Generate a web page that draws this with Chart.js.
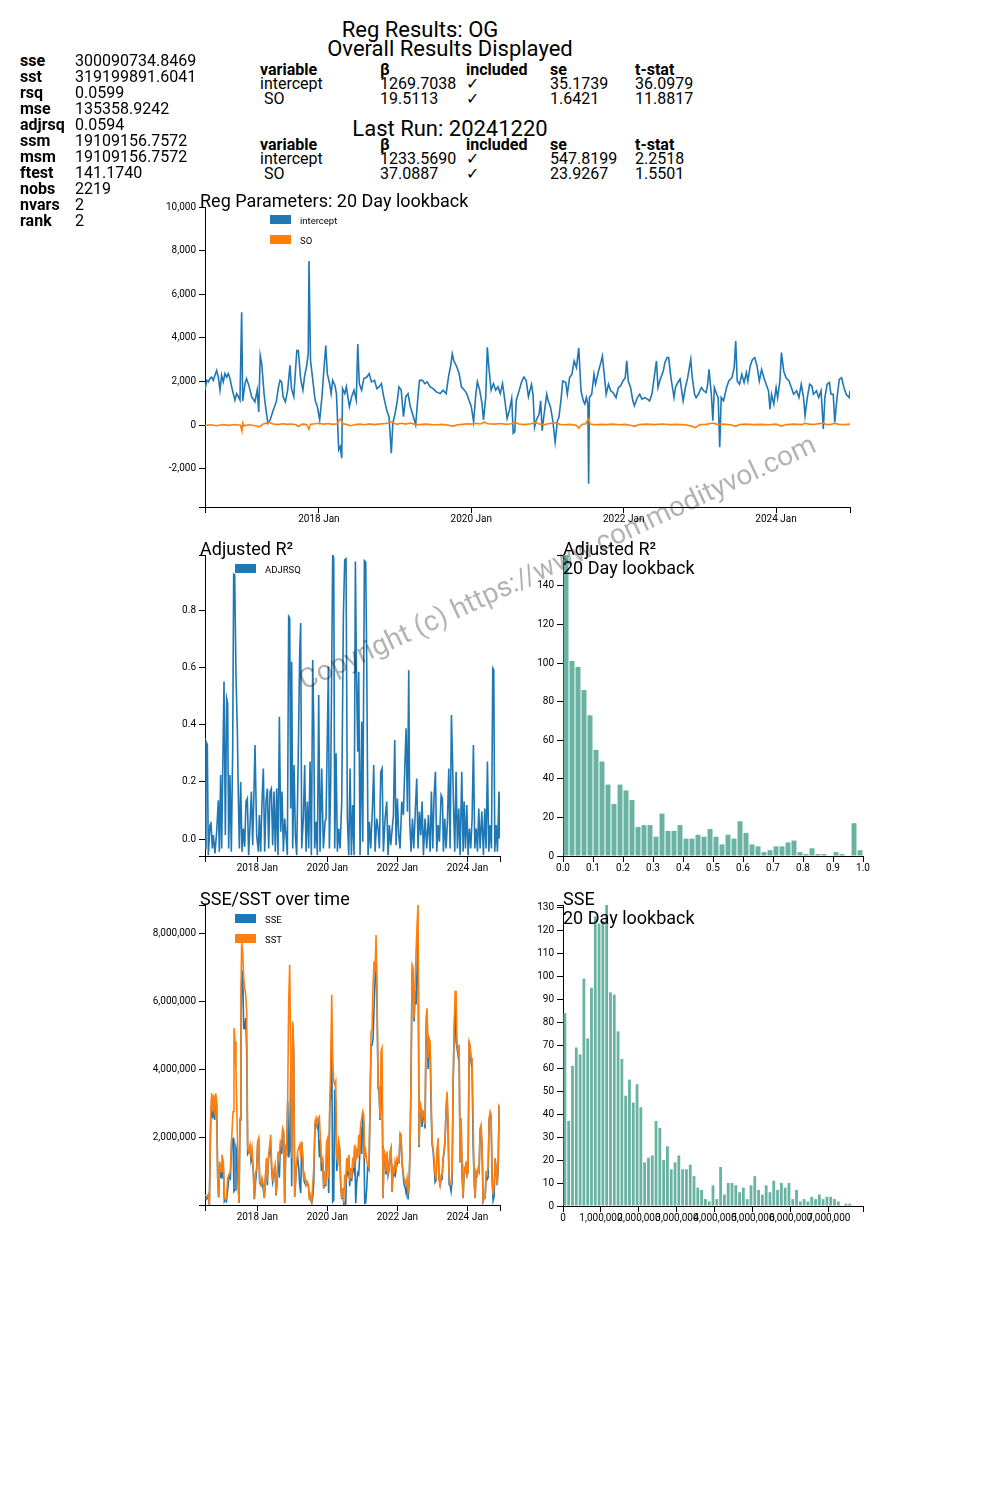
<!DOCTYPE html>
<html><head><meta charset="utf-8">
<script src="https://cdn.jsdelivr.net/npm/chart.js@4.4.1/dist/chart.umd.min.js"></script>
<style>
body{margin:0;background:#fff;font-family:Roboto,sans-serif;}
#wrap{position:relative;width:1000px;height:1500px;overflow:hidden;background:#fff;}
.t{position:absolute;white-space:pre;color:#000;line-height:1;font-family:Roboto,sans-serif;}
canvas{position:absolute;}
#wm{position:absolute;white-space:nowrap;font-family:Roboto,sans-serif;color:rgba(0,0,0,0.3);z-index:10;pointer-events:none;}
</style></head><body><div id="wrap"></div>
<script>
// ---------------- DATA ----------------
const statNames = ['sse','sst','rsq','mse','adjrsq','ssm','msm','ftest','nobs','nvars','rank'];
const statValues = ['300090734.8469','319199891.6041','0.0599','135358.9242','0.0594','19109156.7572','19109156.7572','141.1740','2219','2','2'];
const tableHeaders = ['variable','β','included','se','t-stat'];
const overallRows = [['intercept','1269.7038','✓','35.1739','36.0979'],[' SO','19.5113','✓','1.6421','11.8817']];
const lastRunRows = [['intercept','1233.5690','✓','547.8199','2.2518'],[' SO','37.0887','✓','23.9267','1.5501']];

const yearTicks = [2018, 2020, 2022, 2024];

// Reg parameters (decimal years)
const paramDates = [
2016.505,2016.527,2016.549,2016.570,2016.592,2016.614,2016.636,2016.658,2016.680,2016.702,
2016.723,2016.745,2016.767,2016.789,2016.811,2016.833,2016.855,2016.876,2016.898,2016.920,
2016.942,2016.964,2016.986,2017.000,2017.030,2017.050,2017.086,2017.117,2017.160,2017.190,
2017.210,2017.230,2017.250,2017.280,2017.300,2017.330,2017.360,2017.400,2017.440,2017.470,
2017.490,2017.510,2017.530,2017.560,2017.590,2017.620,2017.640,2017.670,2017.710,2017.730,
2017.760,2017.790,2017.810,2017.840,2017.860,2017.870,2017.890,2017.920,2017.950,2017.980,
2018.010,2018.040,2018.060,2018.090,2018.110,2018.140,2018.160,2018.180,2018.210,2018.230,
2018.260,2018.280,2018.300,2018.310,2018.340,2018.360,2018.400,2018.430,2018.460,2018.490,
2018.510,2018.530,2018.560,2018.590,2018.630,2018.660,2018.690,2018.730,2018.760,2018.790,
2018.820,2018.850,2018.890,2018.920,2018.950,2018.970,2019.000,2019.030,2019.050,2019.080,
2019.110,2019.140,2019.170,2019.200,2019.240,2019.270,2019.300,2019.320,2019.360,2019.390,
2019.420,2019.460,2019.500,2019.540,2019.590,2019.630,2019.670,2019.700,2019.730,2019.750,
2019.770,2019.810,2019.840,2019.870,2019.910,2019.940,2019.970,2020.000,2020.030,2020.060,
2020.080,2020.110,2020.140,2020.160,2020.190,2020.210,2020.230,2020.260,2020.290,2020.320,
2020.350,2020.380,2020.410,2020.440,2020.470,2020.500,2020.530,2020.550,2020.570,2020.590,
2020.630,2020.660,2020.690,2020.720,2020.750,2020.790,2020.810,2020.830,2020.850,2020.890,
2020.910,2020.930,2020.950,2020.990,2021.010,2021.040,2021.070,2021.100,2021.130,2021.150,
2021.180,2021.200,2021.240,2021.260,2021.290,2021.320,2021.350,2021.380,2021.410,2021.440,
2021.470,2021.490,2021.510,2021.530,2021.540,2021.550,2021.580,2021.610,2021.630,2021.670,
2021.700,2021.720,2021.740,2021.770,2021.800,2021.830,2021.860,2021.900,2021.930,2021.960,
2021.990,2022.020,2022.040,2022.060,2022.090,2022.120,2022.140,2022.180,2022.210,2022.240,
2022.280,2022.310,2022.340,2022.370,2022.400,2022.430,2022.450,2022.480,2022.520,2022.540,
2022.570,2022.590,2022.620,2022.660,2022.680,2022.710,2022.740,2022.780,2022.810,2022.840,
2022.880,2022.900,2022.930,2022.950,2022.980,2023.020,2023.050,2023.080,2023.100,2023.120,
2023.150,2023.170,2023.190,2023.220,2023.240,2023.260,2023.280,2023.310,2023.350,2023.380,
2023.420,2023.450,2023.470,2023.490,2023.520,2023.550,2023.580,2023.610,2023.630,2023.660,
2023.690,2023.720,2023.750,2023.780,2023.810,2023.840,2023.870,2023.900,2023.920,2023.940,
2023.970,2024.000,2024.020,2024.050,2024.070,2024.100,2024.130,2024.170,2024.200,2024.230,
2024.270,2024.300,2024.330,2024.360,2024.380,2024.410,2024.440,2024.470,2024.490,2024.530,
2024.560,2024.590,2024.620,2024.640,2024.670,2024.700,2024.720,2024.750,2024.770,2024.800,
2024.830,2024.860,2024.890,2024.920,2024.960,2024.970];
const interceptVals = [
1600,2050,1980,2130,2200,2050,2280,2500,2200,1600,
2280,1980,2360,2200,2360,2130,1750,1440,1140,1440,
1300,1140,5170,1100,1900,2130,1750,1300,1060,1600,
600,3190,2800,1440,840,80,230,680,1060,1750,
2050,1980,1300,1060,1600,2740,1670,1300,3420,3420,
2130,1600,2200,2740,3270,7520,2960,2050,1140,840,
230,1300,2280,3650,2360,1900,1440,2050,1820,1440,
-1140,-990,-1520,1670,1440,1750,840,1300,1600,1140,
3720,1900,1600,2130,2200,2360,1980,2050,1670,1750,
1900,1300,680,380,-1290,80,530,1140,1750,1600,
380,1300,1440,840,380,0,1300,2050,2050,1900,
1980,1750,1670,1520,1440,1600,1440,2200,2740,3270,
2960,2660,2360,1750,1600,1440,1140,840,150,1440,
1980,1600,990,230,1300,3570,2660,1600,1900,1600,
1750,1440,1900,1140,300,680,1220,-380,-300,1140,
1600,1980,2200,2050,1300,1870,1410,-100,200,500,
1110,-260,350,1410,1110,810,200,-790,200,350,
1260,2020,1950,1410,2170,2330,2940,2630,3540,1570,
1110,960,1260,960,-2690,1260,1410,2330,1870,2480,
2860,3160,2480,1410,1870,1570,1490,1260,1720,1790,
2020,2170,2940,2020,1720,1110,880,1260,1410,1190,
1260,1190,1110,1410,2170,2940,1720,2100,2480,2860,
3090,3090,2170,1260,1720,1950,2100,1110,1720,2170,
3010,2170,1410,1260,1410,1720,1570,1490,1790,2550,
1410,200,1720,1410,1260,-1020,1260,1110,1720,2020,
2170,2630,3850,2020,1870,2330,1950,2400,2020,2710,
3010,3090,2710,2020,2550,2170,1870,1570,730,1410,
960,1720,1260,2020,3320,2480,2170,2020,1720,1410,
1570,1260,1870,1260,430,1260,1870,1790,1410,1570,
1260,1570,-180,1260,1870,1950,1410,1410,120,1260,
2100,2170,1720,1410,1260,1570];
const soDates = [
2016.505,2016.58,2016.66,2016.74,2016.82,2016.90,2016.97,2016.99,2017.00,2017.02,
2017.08,2017.15,2017.22,2017.26,2017.34,2017.40,2017.46,2017.52,2017.58,2017.64,
2017.70,2017.73,2017.78,2017.84,2017.87,2017.89,2017.95,2018.00,2018.06,2018.12,
2018.18,2018.24,2018.27,2018.29,2018.31,2018.36,2018.42,2018.48,2018.54,2018.60,
2018.66,2018.72,2018.78,2018.84,2018.90,2018.94,2018.97,2019.02,2019.08,2019.14,
2019.20,2019.26,2019.32,2019.40,2019.48,2019.56,2019.62,2019.70,2019.76,2019.82,
2019.88,2019.94,2020.00,2020.06,2020.12,2020.17,2020.22,2020.30,2020.38,2020.46,
2020.52,2020.57,2020.62,2020.70,2020.78,2020.84,2020.90,2020.96,2021.04,2021.10,
2021.16,2021.22,2021.30,2021.38,2021.41,2021.45,2021.50,2021.54,2021.56,2021.62,
2021.70,2021.78,2021.86,2021.94,2022.02,2022.10,2022.14,2022.20,2022.30,2022.40,
2022.50,2022.60,2022.70,2022.80,2022.88,2022.94,2023.00,2023.08,2023.17,2023.24,
2023.30,2023.40,2023.47,2023.52,2023.60,2023.70,2023.80,2023.90,2024.00,2024.07,
2024.14,2024.24,2024.34,2024.38,2024.44,2024.52,2024.62,2024.66,2024.72,2024.77,
2024.82,2024.90,2024.97];
const soVals = [
-20,10,-30,20,-15,25,-10,-280,90,-40,
10,-20,-80,30,130,50,20,60,30,50,
10,-70,40,20,-200,40,60,80,40,70,
30,60,250,280,60,30,-30,20,40,10,
50,20,40,60,80,150,120,30,80,40,
90,30,20,40,20,10,30,-10,-50,10,
30,60,40,80,50,130,60,40,70,30,
60,130,50,20,60,110,40,20,80,100,
30,10,30,-20,-150,20,60,300,40,10,
30,20,40,10,30,-20,-60,20,40,20,
50,20,30,10,-40,-120,20,30,90,20,
40,10,-60,20,40,20,30,10,40,-50,
20,40,20,80,30,40,90,20,30,80,
30,20,40];

// Adjusted R² over time
const adjDates = [
2016.505,2016.533,2016.571,2016.600,2016.648,2016.676,2016.714,2016.743,2016.790,2016.838,
2016.886,2016.914,2016.952,2016.981,2017.010,2017.048,2017.086,2017.124,2017.152,2017.181,
2017.219,2017.257,2017.295,2017.324,2017.352,2017.390,2017.429,2017.457,2017.486,2017.524,
2017.562,2017.600,2017.638,2017.676,2017.714,2017.752,2017.790,2017.829,2017.867,2017.905,
2017.933,2017.981,2018.029,2018.057,2018.095,2018.133,2018.171,2018.210,2018.248,2018.286,
2018.324,2018.362,2018.400,2018.438,2018.476,2018.514,2018.552,2018.590,2018.629,2018.667,
2018.705,2018.743,2018.781,2018.819,2018.857,2018.895,2018.924,2018.952,2018.981,2019.010,
2019.048,2019.086,2019.124,2019.171,2019.210,2019.238,2019.267,2019.314,2019.352,2019.390,
2019.429,2019.467,2019.505,2019.543,2019.581,2019.610,2019.638,2019.676,2019.714,2019.752,
2019.790,2019.838,2019.886,2019.933,2019.962,2020.029,2020.057,2020.095,2020.152,2020.181,
2020.210,2020.248,2020.286,2020.324,2020.362,2020.410,2020.457,2020.495,2020.533,2020.571,
2020.610,2020.648,2020.686,2020.724,2020.762,2020.800,2020.829,2020.867,2020.895,2020.933,
2020.981,2021.010,2021.057,2021.095,2021.124,2021.162,2021.200,2021.238,2021.286,2021.324,
2021.362,2021.410,2021.448,2021.486,2021.524,2021.562,2021.600,2021.648,2021.695,2021.733,
2021.771,2021.810,2021.886,2021.924,2021.962,2022.000,2022.038,2022.076,2022.124,2022.171,
2022.210,2022.248,2022.286,2022.324,2022.352,2022.390,2022.429,2022.467,2022.514,2022.552,
2022.590,2022.629,2022.667,2022.705,2022.743,2022.790,2022.838,2022.886,2022.933,2022.971,
2023.010,2023.048,2023.086,2023.124,2023.162,2023.200,2023.248,2023.286,2023.314,2023.352,
2023.390,2023.429,2023.467,2023.505,2023.543,2023.571,2023.600,2023.638,2023.676,2023.714,
2023.752,2023.790,2023.838,2023.876,2023.905,2023.943,2023.981,2024.019,2024.057,2024.095,
2024.133,2024.171,2024.210,2024.248,2024.286,2024.324,2024.362,2024.410,2024.457,2024.495,
2024.533,2024.571,2024.610,2024.648,2024.686,2024.724,2024.752,2024.781,2024.819,2024.857,
2024.900,2024.915,2024.930];
const adjVals = [
-0.033,0.341,0.329,-0.056,0.049,0.061,-0.033,0.014,-0.050,0.026,
0.136,-0.044,0.224,-0.033,0.224,0.551,0.014,0.492,0.475,-0.033,
0.224,-0.044,0.305,0.926,0.924,0.574,0.375,0.154,-0.033,0.200,
-0.044,0.037,-0.027,0.131,0.142,-0.056,0.049,0.166,-0.021,0.177,
0.329,0.014,-0.044,0.084,-0.044,0.131,0.247,-0.044,0.131,0.177,
-0.033,0.166,0.177,-0.021,0.166,-0.044,0.177,-0.056,0.428,0.026,
0.166,-0.044,0.072,0.014,-0.056,0.778,0.772,0.107,0.620,-0.033,
0.259,0.014,-0.056,0.317,0.656,0.755,-0.033,0.072,0.259,-0.044,
0.131,-0.033,0.271,-0.056,0.626,0.410,-0.033,0.061,-0.056,0.504,
-0.044,0.247,-0.033,0.061,0.072,0.603,-0.033,0.200,0.994,0.982,
-0.033,0.300,-0.044,0.037,-0.033,0.131,0.778,0.976,0.980,0.072,
-0.056,0.247,-0.056,0.119,-0.056,0.970,0.597,0.305,0.585,-0.056,
0.410,-0.009,0.973,0.968,0.615,-0.056,0.061,-0.033,0.107,0.259,
-0.044,0.072,0.037,-0.033,0.235,0.247,-0.044,0.072,0.131,-0.056,
0.049,-0.021,0.084,0.346,-0.021,0.142,0.014,-0.033,0.131,0.084,
0.247,0.387,0.096,0.590,0.061,-0.044,0.072,-0.033,0.107,0.212,
-0.033,0.096,0.014,0.131,-0.056,0.072,-0.033,0.084,-0.044,0.166,
-0.033,0.154,0.235,-0.044,0.049,-0.009,0.154,0.142,-0.044,0.072,
-0.033,0.061,0.247,-0.033,0.434,0.294,0.131,-0.044,0.235,-0.033,
0.107,-0.056,0.235,-0.044,0.131,-0.033,0.119,-0.056,0.037,-0.033,
0.072,0.329,-0.033,0.037,-0.044,0.107,-0.033,0.096,-0.056,0.107,
-0.033,0.271,-0.044,0.049,-0.033,0.597,0.591,-0.044,0.049,-0.044,
0.166,0.002,0.160];

// SSE / SST over time (millions)
const errDates = [
2016.505,2016.552,2016.600,2016.629,2016.667,2016.695,2016.724,2016.752,2016.781,2016.810,
2016.838,2016.867,2016.895,2016.924,2016.962,2016.990,2017.029,2017.057,2017.086,2017.114,
2017.152,2017.190,2017.229,2017.267,2017.305,2017.333,2017.362,2017.390,2017.419,2017.448,
2017.476,2017.505,2017.533,2017.552,2017.581,2017.610,2017.638,2017.667,2017.695,2017.724,
2017.752,2017.790,2017.819,2017.848,2017.886,2017.914,2017.943,2017.981,2018.010,2018.038,
2018.067,2018.105,2018.133,2018.171,2018.200,2018.229,2018.257,2018.286,2018.314,2018.343,
2018.381,2018.410,2018.438,2018.467,2018.505,2018.533,2018.562,2018.600,2018.629,2018.657,
2018.695,2018.724,2018.752,2018.781,2018.810,2018.838,2018.867,2018.895,2018.924,2018.952,
2018.981,2019.010,2019.038,2019.067,2019.095,2019.124,2019.152,2019.181,2019.210,2019.238,
2019.267,2019.295,2019.324,2019.352,2019.390,2019.419,2019.457,2019.486,2019.514,2019.552,
2019.581,2019.610,2019.648,2019.676,2019.705,2019.733,2019.771,2019.800,2019.829,2019.867,
2019.895,2019.924,2019.952,2019.981,2020.010,2020.038,2020.067,2020.095,2020.124,2020.152,
2020.181,2020.210,2020.238,2020.267,2020.295,2020.324,2020.352,2020.381,2020.410,2020.438,
2020.467,2020.495,2020.524,2020.552,2020.581,2020.610,2020.638,2020.667,2020.695,2020.724,
2020.752,2020.781,2020.810,2020.838,2020.867,2020.895,2020.924,2020.952,2020.981,2021.010,
2021.038,2021.067,2021.095,2021.124,2021.152,2021.190,2021.219,2021.248,2021.276,2021.305,
2021.333,2021.362,2021.390,2021.419,2021.448,2021.476,2021.505,2021.533,2021.562,2021.590,
2021.619,2021.648,2021.676,2021.705,2021.733,2021.762,2021.790,2021.819,2021.848,2021.876,
2021.905,2021.933,2021.962,2021.990,2022.019,2022.048,2022.076,2022.105,2022.133,2022.162,
2022.190,2022.219,2022.248,2022.276,2022.305,2022.333,2022.362,2022.390,2022.419,2022.448,
2022.476,2022.505,2022.533,2022.562,2022.590,2022.619,2022.648,2022.676,2022.705,2022.733,
2022.762,2022.790,2022.819,2022.848,2022.876,2022.905,2022.933,2022.962,2022.990,2023.019,
2023.048,2023.076,2023.105,2023.133,2023.162,2023.190,2023.219,2023.248,2023.276,2023.305,
2023.333,2023.362,2023.390,2023.419,2023.448,2023.476,2023.505,2023.533,2023.562,2023.590,
2023.619,2023.648,2023.676,2023.705,2023.733,2023.762,2023.790,2023.819,2023.848,2023.876,
2023.905,2023.933,2023.962,2023.990,2024.019,2024.048,2024.076,2024.105,2024.133,2024.162,
2024.190,2024.219,2024.248,2024.276,2024.305,2024.333,2024.362,2024.390,2024.419,2024.448,
2024.476,2024.505,2024.533,2024.562,2024.590,2024.619,2024.648,2024.676,2024.705,2024.733,
2024.762,2024.790,2024.819,2024.848,2024.876,2024.905,2024.924];
const sstMillions = [
0.30,0.25,0.30,0.01,2.56,3.29,2.75,3.24,2.66,3.29,
3.05,0.89,0.25,1.28,0.99,1.48,1.28,0.21,0.16,0.21,
0.79,0.89,0.99,1.97,2.75,5.21,4.81,3.93,2.56,1.09,
0.06,2.56,6.38,7.71,7.46,6.68,6.38,6.19,5.70,1.68,
1.58,1.77,1.48,1.68,0.99,0.21,0.89,1.09,1.87,1.97,
0.70,0.60,0.79,0.60,0.21,0.79,1.38,0.70,1.38,1.68,
2.07,1.19,0.70,0.99,1.19,0.30,0.79,1.58,1.38,1.87,
1.77,2.26,2.17,0.06,1.68,1.58,3.15,5.99,7.07,4.32,
1.38,5.40,4.62,0.25,0.79,1.28,1.58,1.68,1.77,1.38,
1.87,1.48,0.79,0.89,0.60,0.70,0.60,0.21,0.30,0.06,
0.60,1.09,2.46,2.56,2.36,2.56,2.61,1.97,1.28,1.38,
0.50,0.99,0.60,1.87,1.97,0.79,2.95,4.13,6.19,4.32,
3.64,3.54,3.64,1.38,1.28,1.87,1.68,0.60,0.21,0.50,
0.06,0.89,0.60,1.38,0.99,1.48,0.70,1.09,0.79,1.38,
1.09,1.77,1.28,1.58,1.38,2.07,1.48,2.36,2.56,2.75,
2.66,1.38,1.58,1.28,1.19,1.09,3.05,5.11,5.16,6.48,
7.17,6.87,7.95,6.09,3.54,3.44,2.56,4.52,4.62,0.21,
1.58,1.48,0.99,1.58,0.89,1.09,1.58,1.68,0.40,1.09,
0.99,1.28,1.09,1.38,1.28,1.28,2.12,2.07,1.28,0.99,
0.79,0.70,0.60,0.79,0.40,0.60,1.77,3.83,7.07,6.97,
5.50,6.48,7.46,8.25,8.83,1.77,3.05,2.85,2.56,2.75,
2.66,2.36,5.50,5.79,4.32,4.91,4.81,3.34,1.87,1.68,
1.38,0.89,0.79,1.58,1.97,0.79,0.60,0.89,0.89,1.38,
1.58,1.97,2.85,3.34,2.36,0.79,0.60,0.60,0.99,3.54,
5.21,6.28,6.28,4.72,4.52,4.72,1.28,2.56,1.09,0.21,
1.09,0.99,1.28,0.89,0.99,4.81,4.72,4.32,4.32,2.56,
0.79,0.21,0.99,0.89,1.09,0.99,2.26,2.36,1.68,0.11,
0.21,0.21,0.89,0.99,1.09,2.56,2.75,2.66,0.79,0.30,
0.60,1.38,1.09,0.60,1.19,2.90,2.85];
const sseMillions = [
0.20,0.17,0.29,0.01,2.45,3.10,2.55,3.15,2.50,3.20,
2.95,0.80,0.22,1.20,0.80,1.20,1.10,0.10,0.15,0.11,
0.42,0.85,0.78,1.90,1.95,0.40,0.45,1.70,1.60,0.70,
0.06,2.50,5.30,6.60,6.90,5.20,5.20,5.50,4.60,1.50,
1.55,1.70,1.30,1.45,0.95,0.17,0.60,1.05,1.85,1.90,
0.65,0.58,0.70,0.45,0.20,0.75,1.20,0.58,1.35,1.55,
1.72,1.00,0.68,0.85,1.15,0.28,0.66,1.55,0.80,1.80,
1.50,2.20,2.10,0.05,1.65,1.55,3.05,1.40,1.60,3.90,
0.55,5.30,4.50,0.24,0.75,1.25,1.40,1.10,0.60,0.35,
1.85,1.40,0.75,0.65,0.58,0.62,0.58,0.20,0.22,0.06,
0.22,0.64,2.40,2.40,2.30,2.50,1.40,1.92,1.00,1.30,
0.48,0.92,0.55,1.80,1.60,0.35,2.80,3.30,5.00,0.10,
0.15,3.40,3.00,1.00,1.25,1.80,1.65,0.58,0.18,0.48,
0.03,0.05,0.03,1.10,0.95,1.45,0.55,1.05,0.70,1.22,
1.05,1.70,0.05,0.65,0.95,0.90,1.45,2.30,1.50,2.70,
2.40,0.05,0.06,0.50,1.15,1.05,2.95,4.70,4.70,4.90,
5.80,6.60,7.50,5.90,3.45,3.30,2.50,3.50,3.50,0.20,
1.55,1.40,0.90,1.40,0.88,1.05,1.50,1.65,0.38,1.00,
0.90,0.85,1.07,1.20,1.25,1.25,2.10,1.90,1.20,0.90,
0.60,0.52,0.35,0.72,0.16,0.55,1.70,3.75,6.90,6.60,
5.40,6.30,5.90,7.00,7.90,1.70,2.95,2.75,2.30,2.70,
2.60,2.25,5.20,5.60,4.00,4.80,4.70,2.90,1.80,1.60,
1.15,0.68,0.75,1.55,1.88,0.77,0.59,0.75,0.76,1.35,
1.55,1.90,2.80,3.25,2.20,0.60,0.58,0.40,0.70,3.40,
5.00,5.90,4.80,4.60,4.40,4.60,1.25,2.40,0.85,0.20,
0.95,0.97,1.15,0.87,0.97,4.70,4.60,4.20,4.00,1.75,
0.77,0.20,0.95,0.87,1.00,0.97,2.20,2.20,1.65,0.11,
0.20,0.20,0.87,0.75,0.80,2.50,2.65,2.60,0.75,0.13,
0.25,1.35,1.05,0.58,1.00,2.85,2.80];

// Histogram: adjusted R² (bin starts, width 0.02)
const r2BinStart = [0.00,0.02,0.04,0.06,0.08,0.10,0.12,0.14,0.16,0.18,0.20,0.22,0.24,0.26,0.28,0.30,0.32,0.34,0.36,0.38,0.40,0.42,0.44,0.46,0.48,0.50,0.52,0.54,0.56,0.58,0.60,0.62,0.64,0.66,0.68,0.70,0.72,0.74,0.76,0.78,0.80,0.82,0.84,0.86,0.88,0.90,0.92,0.94,0.96,0.98];
const r2Counts = [156,101,98,86,73,55,49,37,27,37,34,29,15,16,16,10,22,13,13,16,9,9,11,10,14,10,6,11,9,18,12,6,5,2,3,5,5,7,8,2,1,4,1,1,0,2,1,0,17,3];
const r2BinWidth = 0.02;

// Histogram: SSE (bin starts in millions, width 0.1M)
const sseBinStartM = [0.0,0.1,0.2,0.3,0.4,0.5,0.6,0.7,0.8,0.9,1.0,1.1,1.2,1.3,1.4,1.5,1.6,1.7,1.8,1.9,2.0,2.1,2.2,2.3,2.4,2.5,2.6,2.7,2.8,2.9,3.0,3.1,3.2,3.3,3.4,3.5,3.6,3.7,3.8,3.9,4.0,4.1,4.2,4.3,4.4,4.5,4.6,4.7,4.8,4.9,5.0,5.1,5.2,5.3,5.4,5.5,5.6,5.7,5.8,5.9,6.0,6.1,6.2,6.3,6.4,6.5,6.6,6.7,6.8,6.9,7.0,7.1,7.2,7.3,7.4,7.5,7.6,7.7,7.8];
const sseCounts = [84,37,61,69,66,99,73,95,126,123,124,131,93,92,76,64,48,55,45,53,43,19,21,22,37,34,20,26,16,19,22,16,16,18,13,8,7,3,2,9,3,17,5,10,10,9,6,8,3,9,13,7,5,9,6,11,7,10,8,10,3,7,2,3,2,4,3,5,3,4,4,3,2,0,1,1,0,0,0];
const sseBinWidthM = 0.1;

// ---------------- RENDER ----------------
const wrap = document.getElementById('wrap');
const BLUE = '#1f77b4', ORANGE = '#ff7f0e', GREEN = '#69b3a2';
Chart.defaults.font.family = 'Roboto, sans-serif';
Chart.defaults.color = '#000';

function addText(str, x, baseline, size, opt) {
  opt = opt || {};
  const d = document.createElement('div');
  d.className = 't';
  d.textContent = str;
  d.style.fontSize = size + 'px';
  d.style.left = x + 'px';
  d.style.top = (baseline - 0.84 * size) + 'px';
  if (opt.bold) d.style.fontWeight = 'bold';
  if (opt.center) d.style.transform = 'translateX(-50%)';
  wrap.appendChild(d);
}

const PADL = 25, T = 15, R = 15, B = 35;
function makeCanvas(x0, y0, x1, y1, yw) {
  const L = PADL + yw;
  const c = document.createElement('canvas');
  c.width = Math.round(x1 - x0 + L + R);
  c.height = Math.round(y1 - y0 + T + B);
  c.style.left = (x0 - L) + 'px';
  c.style.top = (y0 - T) + 'px';
  wrap.appendChild(c);
  return c;
}

function axis(min, max, labelVals, fmt, isX, yw) {
  const all = labelVals.slice();
  if (!all.includes(min)) all.unshift(min);
  if (!all.includes(max)) all.push(max);
  const lab = new Set(labelVals);
  return {
    type: 'linear', min: min, max: max, offset: false,
    grid: { display: true, drawOnChartArea: false, drawTicks: true, tickLength: 6, color: '#000', lineWidth: 1, offset: false },
    border: { display: true, color: '#000', width: 1 },
    ticks: { color: '#000', font: { size: 10 }, padding: isX ? 0 : 3, autoSkip: false, maxRotation: 0, minRotation: 0,
      callback: function (v) { return lab.has(v) ? fmt(v) : ''; } },
    afterBuildTicks: function (s) { s.ticks = all.map(function (v) { return { value: v }; }); },
    afterFit: function (s) { if (isX) s.height = B; else s.width = yw; }
  };
}

const boxLegend = {
  id: 'boxLegend',
  afterDraw(chart, args, o) {
    if (!o || !o.show) return;
    const ctx = chart.ctx, a = chart.chartArea;
    ctx.save();
    chart.data.datasets.forEach(function (ds, i) {
      const y = a.top + o.dy + i * 20;
      ctx.fillStyle = ds.borderColor;
      ctx.fillRect(a.left + o.dx, y, 21, 9);
      ctx.fillStyle = '#000';
      ctx.font = '9.5px Roboto, sans-serif';
      ctx.textBaseline = 'middle';
      ctx.fillText(ds.label, a.left + o.dx + 30, y + 7);
    });
    ctx.restore();
  }
};

function baseOptions(xs, ys, legend) {
  return {
    responsive: false, animation: false, devicePixelRatio: 1, events: [],
    layout: { padding: { left: PADL, top: T, right: R, bottom: 0 } },
    scales: { x: xs, y: ys },
    plugins: { legend: { display: false }, tooltip: { enabled: false }, boxLegend: legend },
    elements: { point: { radius: 0 }, line: { tension: 0, borderWidth: 1.5 } }
  };
}
function pts(xs, ys) { return xs.map(function (x, i) { return { x: x, y: ys[i] }; }); }

const yearFmt = function (v) { return v + ' Jan'; };
const commaFmt = function (v) { return v.toLocaleString('en-US'); };
const millionFmt = function (v) { return Math.round(v * 1e6).toLocaleString('en-US'); };

// Chart 1: Reg parameters
new Chart(makeCanvas(205, 207, 850, 507, 45), {
  type: 'line',
  data: { datasets: [
    { label: 'intercept', data: pts(paramDates, interceptVals), borderColor: BLUE, borderWidth: 1.6, order: 1 },
    { label: 'SO', data: pts(soDates, soVals), borderColor: ORANGE, borderWidth: 1.6, order: 0 }
  ] },
  options: baseOptions(
    axis(2016.505, 2024.97, yearTicks, yearFmt, true),
    axis(-3760, 10000, [-2000, 0, 2000, 4000, 6000, 8000, 10000], commaFmt, false, 45),
    { show: true, dx: 65, dy: 8 }),
  plugins: [boxLegend]
});

// Chart 2: Adjusted R² over time
new Chart(makeCanvas(205, 555, 500, 856, 45), {
  type: 'line',
  data: { datasets: [
    { label: 'ADJRSQ', data: pts(adjDates, adjVals), borderColor: BLUE, borderWidth: 1.6 }
  ] },
  options: baseOptions(
    axis(2016.505, 2024.93, yearTicks, yearFmt, true),
    axis(-0.059, 0.993, [0, 0.2, 0.4, 0.6, 0.8], function (v) { return v.toFixed(1); }, false, 45),
    { show: true, dx: 30, dy: 9 }),
  plugins: [boxLegend]
});

// Chart 3: Adjusted R² histogram
new Chart(makeCanvas(563, 555, 863, 856, 45), {
  type: 'bar',
  data: { datasets: [
    { label: 'count', data: pts(r2BinStart.map(function (s) { return s + r2BinWidth / 2; }), r2Counts),
      backgroundColor: GREEN, borderWidth: 0, barPercentage: 0.83, categoryPercentage: 1 }
  ] },
  options: baseOptions(
    axis(0, 1, [0, 0.1, 0.2, 0.3, 0.4, 0.5, 0.6, 0.7, 0.8, 0.9, 1], function (v) { return v.toFixed(1); }, true),
    axis(0, 156, [0, 20, 40, 60, 80, 100, 120, 140], function (v) { return String(v); }, false, 45),
    { show: false }),
  plugins: [boxLegend]
});

// Chart 4: SSE/SST over time
new Chart(makeCanvas(205, 905, 500, 1205, 65), {
  type: 'line',
  data: { datasets: [
    { label: 'SSE', data: pts(errDates, sseMillions), borderColor: BLUE, borderWidth: 1.6, order: 1 },
    { label: 'SST', data: pts(errDates, sstMillions), borderColor: ORANGE, borderWidth: 1.6, order: 0 }
  ] },
  options: baseOptions(
    axis(2016.505, 2024.93, yearTicks, yearFmt, true),
    axis(0, 8.83, [2, 4, 6, 8], millionFmt, false, 65),
    { show: true, dx: 30, dy: 9 }),
  plugins: [boxLegend]
});

// Chart 5: SSE histogram
new Chart(makeCanvas(563, 905, 863, 1205.5, 45), {
  type: 'bar',
  data: { datasets: [
    { label: 'count', data: pts(sseBinStartM.map(function (s) { return s + sseBinWidthM / 2; }), sseCounts),
      backgroundColor: GREEN, borderWidth: 0, barPercentage: 0.74, categoryPercentage: 1 }
  ] },
  options: baseOptions(
    axis(0, 7.9, [0, 1, 2, 3, 4, 5, 6, 7], millionFmt, true),
    axis(0, 131, [0, 10, 20, 30, 40, 50, 60, 70, 80, 90, 100, 110, 120, 130], function (v) { return String(v); }, false, 45),
    { show: false }),
  plugins: [boxLegend]
});

// ---------------- TEXT ----------------
statNames.forEach(function (n, i) {
  addText(n, 20, 66 + 16 * i, 16, { bold: true });
  addText(statValues[i], 75, 66 + 16 * i, 16);
});
addText('Reg Results: OG', 420, 37, 22, { center: true });
addText('Overall Results Displayed', 450, 56.5, 22, { center: true });
addText('Last Run: 20241220', 450, 136, 22, { center: true });
const colX = [260, 380, 466, 550, 635];
function table(rows, y0) {
  tableHeaders.forEach(function (h, j) { addText(h, colX[j], y0, 16, { bold: true }); });
  rows.forEach(function (r, i) { r.forEach(function (c, j) { addText(c, colX[j], y0 + 14.7 * (i + 1), 16); }); });
}
table(overallRows, 75);
table(lastRunRows, 150);

addText('Reg Parameters: 20 Day lookback', 200, 207, 18);
addText('Adjusted R²', 200, 555, 18);
addText('Adjusted R²', 563, 555, 18);
addText('20 Day lookback', 563, 574.5, 18);
addText('SSE/SST over time', 200, 905, 18);
addText('SSE', 563, 905, 18);
addText('20 Day lookback', 563, 924.5, 18);

const wm = document.createElement('div');
wm.id = 'wm';
wm.textContent = 'Copyright (c) https://www.commodityvol.com';
wm.style.fontSize = '28px';
wm.style.left = '557px';
wm.style.top = '562px';
wm.style.transform = 'translate(-50%,-50%) rotate(-25deg)';
wrap.appendChild(wm);
</script>
</body></html>
